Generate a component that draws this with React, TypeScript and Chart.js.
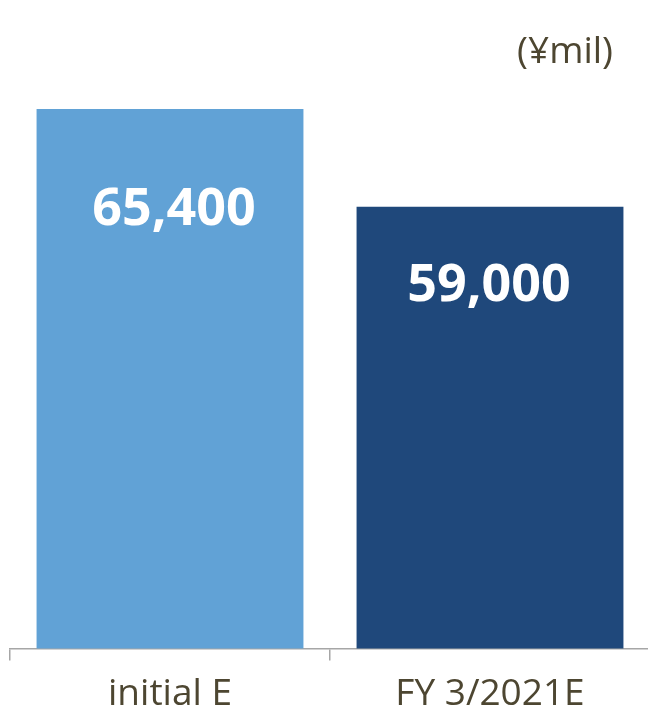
import React, { useEffect, useRef } from "react";
import { Chart, registerables } from "chart.js";

Chart.register(...registerables);

const categories = ["initial E", "FY 3/2021E"];
const values = [65400, 59000];
const valueLabels = ["65,400", "59,000"];
const barColors = ["#61A2D6", "#1F487B"];
const labelOffsetsY = [101, 80];
const labelOffsetsX = [4, -1];
const unitLabel = "(¥mil)";

const FONT = "'Open Sans', 'Noto Sans', sans-serif";
const TEXT_COLOR = "#4D4631";

const labelPlugin = {
  id: "valueLabels",
  afterDatasetsDraw(chart: any) {
    const ctx = chart.ctx;
    const meta = chart.getDatasetMeta(0);
    ctx.save();
    ctx.fillStyle = "#FFFFFF";
    ctx.font = `bold 52px ${FONT}`;
    ctx.textAlign = "center";
    ctx.textBaseline = "middle";
    meta.data.forEach((bar: any, i: number) => {
      ctx.fillText(valueLabels[i], bar.x + labelOffsetsX[i], bar.y + labelOffsetsY[i]);
    });
    ctx.fillStyle = TEXT_COLOR;
    ctx.font = `37px ${FONT}`;
    ctx.textAlign = "right";
    ctx.fillText(unitLabel, chart.chartArea.right - 37, chart.chartArea.top + 13);
    ctx.restore();
  },
};

export default function App() {
  const ref = useRef<HTMLCanvasElement>(null);
  useEffect(() => {
    if (!ref.current) return;
    const chart = new Chart(ref.current, {
      type: "bar",
      data: {
        labels: categories,
        datasets: [
          {
            data: values,
            backgroundColor: barColors,
            borderWidth: 0,
            categoryPercentage: 0.834,
            barPercentage: 1,
          },
        ],
      },
      options: {
        animation: false,
        responsive: false,
        maintainAspectRatio: false,
        layout: { padding: { top: 39, left: 10, right: 10, bottom: 3 } },
        plugins: { legend: { display: false }, tooltip: { enabled: false }, title: { display: false } },
        scales: {
          x: {
            grid: {
              display: true,
              drawOnChartArea: false,
              offset: true,
              tickLength: 12,
              color: "#A6A6A6",
              lineWidth: 1.5,
            },
            border: { display: true, color: "#A6A6A6", width: 1.5 },
            ticks: { color: TEXT_COLOR, font: { family: FONT, size: 37 }, padding: 12 },
          },
          y: {
            display: false,
            min: 30000,
            max: 70000,
          },
        },
      },
      plugins: [labelPlugin],
    });
    return () => chart.destroy();
  }, []);
  return (
    <div style={{ position: "fixed", left: 0, top: 0, width: 648, height: 711, overflow: "hidden", background: "#fff" }}>
      <canvas ref={ref} width={660} height={732} style={{ display: "block" }} />
    </div>
  );
}
